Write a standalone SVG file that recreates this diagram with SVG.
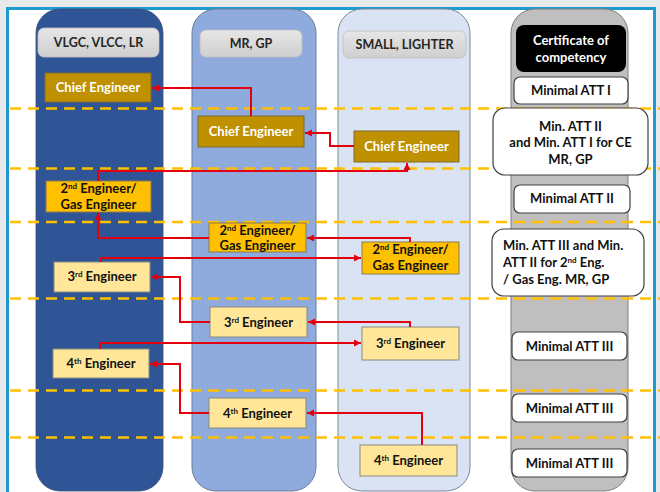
<svg xmlns="http://www.w3.org/2000/svg" width="660" height="492" viewBox="0 0 660 492">
<style>
.t{font-family:Lato,"Liberation Sans",sans-serif;font-weight:bold;font-size:13px;text-anchor:middle;fill:#111}
.w{fill:#fff}
.hd{font-family:Lato,"Liberation Sans",sans-serif;font-weight:bold;font-size:12.5px;text-anchor:middle;fill:#262626}
.dash{stroke:#ffc000;stroke-width:2.6;stroke-dasharray:11 7;fill:none}
.chief{fill:#bf9000;stroke:#7f6a30;stroke-width:1}
.sec{fill:#ffc000;stroke:#8a7a50;stroke-width:1}
.thr{fill:#ffe699;stroke:#8a8a80;stroke-width:1}
.cert{fill:#fff;stroke:#404040;stroke-width:1.2}
.hbox{fill:url(#hg);stroke:#bfbfbf;stroke-width:0.8}
.con{fill:none;stroke:#e3000f;stroke-width:2;marker-end:url(#ah)}
</style>
<defs>
<linearGradient id="hg" x1="0" y1="0" x2="0" y2="1">
<stop offset="0" stop-color="#e6e6e6"/><stop offset="1" stop-color="#cfcfcf"/>
</linearGradient>
<marker id="ah" markerUnits="userSpaceOnUse" markerWidth="8" markerHeight="8" refX="7" refY="4" orient="auto">
<path d="M0,0.5 L7,4 L0,7.5 Z" fill="#e3000f"/>
</marker>
</defs>
<rect x="0" y="0" width="660" height="492" fill="#e8e9eb"/>
<rect x="7.5" y="8.5" width="647" height="490" fill="#fff" stroke="#1e9ad0" stroke-width="3"/>

<g id="columns">
<rect x="36" y="9" width="127" height="482" rx="24" fill="#2f5597" stroke="#3a4f73" stroke-width="0.8"/>
<rect x="192" y="9" width="124" height="482" rx="24" fill="#8faadc" stroke="#6b7d9a" stroke-width="1"/>
<rect x="338" y="9" width="132" height="482" rx="24" fill="#dae3f3" stroke="#7d8799" stroke-width="1"/>
<rect x="511" y="9" width="117" height="482" rx="24" fill="#bfbfbf" stroke="#7f7f7f" stroke-width="1"/>
</g>

<g id="dividers">
<line class="dash" x1="10" y1="108.5" x2="660" y2="108.5"/>
<line class="dash" x1="10" y1="168.5" x2="660" y2="168.5"/>
<line class="dash" x1="10" y1="222" x2="660" y2="222"/>
<line class="dash" x1="10" y1="298.5" x2="660" y2="298.5"/>
<line class="dash" x1="10" y1="390.5" x2="660" y2="390.5"/>
<line class="dash" x1="10" y1="437.5" x2="660" y2="437.5"/>
</g>

<g id="hdr-large"><rect class="hbox" x="38" y="28" width="121" height="29" rx="6"/><text class="hd" x="98.5" y="47">VLGC, VLCC, LR</text></g>
<g id="hdr-mr"><rect class="hbox" x="200" y="30" width="102" height="27" rx="6"/><text class="hd" x="251" y="48">MR, GP</text></g>
<g id="hdr-small"><rect class="hbox" x="343" y="31" width="123" height="27" rx="6"/><text class="hd" x="404.5" y="49">SMALL, LIGHTER</text></g>
<g id="hdr-cert"><rect x="516" y="25" width="110" height="47" rx="8" fill="#000"/><text class="t w" x="571" y="45">Certificate of</text><text class="t w" x="571" y="62">competency</text></g>

<g id="ce1"><rect class="chief" x="45" y="73" width="106" height="29"/><text class="t w" x="98" y="92">Chief Engineer</text></g>
<g id="ce2"><rect class="chief" x="198" y="116" width="106" height="31"/><text class="t w" x="251" y="136">Chief Engineer</text></g>
<g id="ce3"><rect class="chief" x="354" y="131" width="105" height="31"/><text class="t w" x="406.5" y="151">Chief Engineer</text></g>

<g id="se1"><rect class="sec" x="46" y="181" width="105" height="31"/><text class="t" x="98.5" y="193">2<tspan font-size="8" dy="-4">nd</tspan><tspan dy="4"> Engineer/</tspan></text><text class="t" x="98.5" y="209">Gas Engineer</text></g>
<g id="se2"><rect class="sec" x="209" y="223" width="97" height="29"/><text class="t" x="257.5" y="235">2<tspan font-size="8" dy="-4">nd</tspan><tspan dy="4"> Engineer/</tspan></text><text class="t" x="257.5" y="250">Gas Engineer</text></g>
<g id="se3"><rect class="sec" x="362" y="242" width="97" height="32"/><text class="t" x="410.5" y="254">2<tspan font-size="8" dy="-4">nd</tspan><tspan dy="4"> Engineer/</tspan></text><text class="t" x="410.5" y="270">Gas Engineer</text></g>

<g id="te1"><rect class="thr" x="54" y="262" width="96" height="30"/><text class="t" x="102" y="281">3<tspan font-size="8" dy="-4">rd</tspan><tspan dy="4"> Engineer</tspan></text></g>
<g id="te2"><rect class="thr" x="210" y="307" width="97" height="30"/><text class="t" x="258.5" y="327">3<tspan font-size="8" dy="-4">rd</tspan><tspan dy="4"> Engineer</tspan></text></g>
<g id="te3"><rect class="thr" x="362" y="327" width="97" height="33"/><text class="t" x="410.5" y="348">3<tspan font-size="8" dy="-4">rd</tspan><tspan dy="4"> Engineer</tspan></text></g>

<g id="fe1"><rect class="thr" x="53" y="349" width="96" height="29"/><text class="t" x="101" y="368">4<tspan font-size="8" dy="-4">th</tspan><tspan dy="4"> Engineer</tspan></text></g>
<g id="fe2"><rect class="thr" x="209" y="398" width="97" height="30"/><text class="t" x="257.5" y="418">4<tspan font-size="8" dy="-4">th</tspan><tspan dy="4"> Engineer</tspan></text></g>
<g id="fe3"><rect class="thr" x="360" y="445" width="97" height="31"/><text class="t" x="408.5" y="465">4<tspan font-size="8" dy="-4">th</tspan><tspan dy="4"> Engineer</tspan></text></g>

<g id="cert1"><rect class="cert" x="514" y="77" width="114" height="27" rx="6"/><text class="t" x="571" y="95">Minimal ATT I</text></g>
<g id="cert2"><rect class="cert" x="493" y="108" width="155" height="67" rx="12"/><text class="t" x="570.5" y="131">Min. ATT II</text><text class="t" x="570.5" y="147">and Min. ATT I for CE</text><text class="t" x="570.5" y="164">MR, GP</text></g>
<g id="cert3"><rect class="cert" x="514" y="185" width="116" height="28" rx="6"/><text class="t" x="572" y="203">Minimal ATT II</text></g>
<g id="cert4"><rect class="cert" x="492" y="229" width="152" height="67" rx="12"/><text class="t" x="503" y="250" style="text-anchor:start">Min. ATT III and Min.</text><text class="t" x="503" y="267" style="text-anchor:start">ATT II for 2<tspan font-size="8" dy="-4">nd</tspan><tspan dy="4"> Eng.</tspan></text><text class="t" x="503" y="284" style="text-anchor:start">/ Gas Eng. MR, GP</text></g>
<g id="cert5"><rect class="cert" x="512" y="332" width="115" height="28" rx="6"/><text class="t" x="569.5" y="351">Minimal ATT III</text></g>
<g id="cert6"><rect class="cert" x="512" y="394" width="115" height="28" rx="6"/><text class="t" x="569.5" y="413">Minimal ATT III</text></g>
<g id="cert7"><rect class="cert" x="512" y="449" width="115" height="28" rx="6"/><text class="t" x="569.5" y="468">Minimal ATT III</text></g>

<g id="connectors">
<path class="con" d="M251,116 V88 H152"/>
<path class="con" d="M354,146 H330 V133 H305"/>
<path class="con" d="M98,181 V171 H407 V163"/>
<path class="con" d="M209,238 H98 V213"/>
<path class="con" d="M410,242 V238 H307"/>
<path class="con" d="M101,262 V258 H361"/>
<path class="con" d="M210,322 H180 V277 H151"/>
<path class="con" d="M410,327 V322 H308"/>
<path class="con" d="M100,349 V343 H361"/>
<path class="con" d="M209,413 H180 V364 H150"/>
<path class="con" d="M422,445 V413 H307"/>
</g>
</svg>
